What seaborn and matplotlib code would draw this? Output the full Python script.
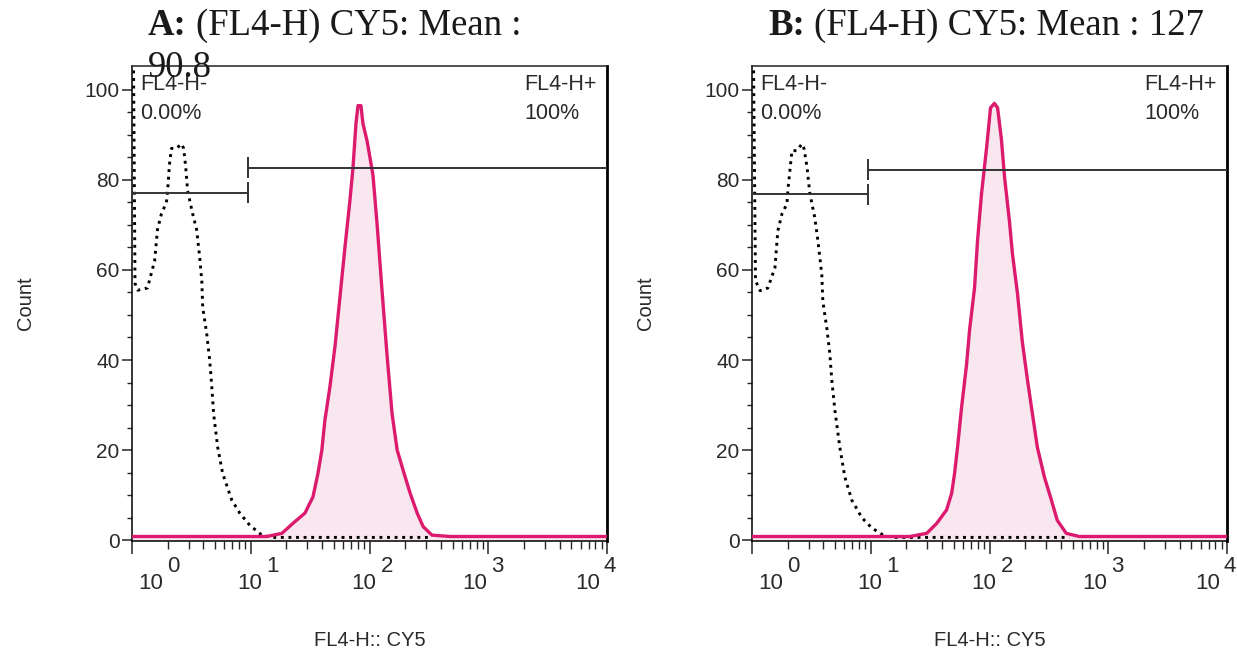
import numpy as np
import pandas as pd
import matplotlib
matplotlib.use("Agg")
import matplotlib.pyplot as plt
import seaborn as sns
from matplotlib.ticker import FixedLocator, NullFormatter

# ---------------- data ----------------
panel_letters = ["A:", "B:"]
title_line1 = ["(FL4-H) CY5: Mean :", "(FL4-H) CY5: Mean : 127"]
title_line2 = ["90.8", ""]
gate_neg_label = "FL4-H-"
gate_pos_label = "FL4-H+"
gate_neg_pct = ["0.00%", "0.00%"]
gate_pos_pct = ["100%", "100%"]
x_label = "FL4-H:: CY5"
y_label = "Count"
y_ticks = [0, 20, 40, 60, 80, 100]
x_decades = [0, 1, 2, 3, 4]

# control (dotted, unstained) histogram, panel A
ctrl_a_x = [1.03, 1.06, 1.12, 1.35, 1.55, 1.64, 1.77, 1.95, 2.00, 2.07, 2.15, 2.37,
            2.62, 2.72, 2.83, 2.94, 3.24, 3.50, 3.71, 3.87, 3.94, 4.25, 4.51, 4.70,
            4.87, 5.27, 5.80, 6.92, 8.08, 9.81, 12.4, 15.0, 330]
ctrl_a_y = [106, 57, 55.5, 56, 62, 69, 72.5, 75, 78, 83.6, 87, 87,
            88, 87, 83, 77.6, 72.5, 69, 63, 57.6, 51.7, 46, 40, 34,
            28, 20.6, 14.8, 8.9, 6.0, 3.3, 1.1, 0.6, 0.6]

# stained (pink) histogram, panel A
samp_a_x = [1.0, 13.6, 18.3, 22.6, 28.6, 33.4, 36.8, 39.7, 42.1, 46.4, 51.2, 56.4,
            62.1, 68.4, 72.6, 76.9, 80.0, 84.7, 88.1, 95.3, 100.9, 107, 116, 127,
            141, 155, 171, 192, 220, 252, 283, 336, 478, 10000]
samp_a_y = [0.8, 0.8, 1.5, 3.7, 6.0, 9.6, 14.8, 20, 26.6, 34, 43, 54,
            65, 75.4, 82.7, 92.5, 96.5, 96.5, 92.5, 88.7, 85, 81, 70, 56,
            40.6, 28, 20, 15.5, 10.4, 6.0, 3.0, 1.1, 0.8, 0.8]

# control histogram, panel B
ctrl_b_x = [1.03, 1.07, 1.17, 1.36, 1.56, 1.65, 1.79, 1.97, 2.01, 2.17, 2.39, 2.63,
            2.74, 2.90, 3.07, 3.38, 3.59, 3.87, 3.95, 4.27, 4.52, 4.70, 4.98, 5.49,
            6.05, 6.92, 8.40, 10.2, 13.1, 16.0, 470]
ctrl_b_y = [106, 57.6, 55.4, 56, 60.5, 68.7, 72.5, 74.7, 78, 86.5, 86.5, 88,
            87, 83, 77, 71.6, 66.5, 59, 53, 47, 41.5, 35.5, 29, 20.6,
            14, 8.9, 5.0, 2.7, 0.9, 0.6, 0.6]

# stained histogram, panel B
samp_b_x = [1.0, 21.3, 29.6, 35.9, 43.5, 48.0, 50.8, 53.8, 58.2, 64.1, 67.9, 74.8,
            79.3, 85.7, 94.4, 102, 110, 117, 126, 134, 147, 156, 172, 189,
            209, 230, 253, 290, 332, 372, 443, 570, 10000]
samp_b_y = [0.8, 0.8, 1.5, 3.7, 6.7, 10.4, 14.8, 20.6, 29.5, 39, 46.6, 56,
            66.5, 77, 87, 96, 97, 96, 89, 80.5, 71, 63.6, 54.8, 44,
            35.5, 28, 20.6, 14, 8.9, 4.4, 1.5, 0.8, 0.8]

# gates
gate_edge = [9.44, 9.44]
gate_neg_y = [77.2, 76.8]
gate_pos_y = [82.7, 82.3]

ctrl_x = [ctrl_a_x, ctrl_b_x]
ctrl_y = [ctrl_a_y, ctrl_b_y]
samp_x = [samp_a_x, samp_b_x]
samp_y = [samp_a_y, samp_b_y]

# ---------------- style ----------------
sns.set_style("ticks")
plt.rcParams["font.family"] = ["Liberation Sans", "DejaVu Sans"]

PINK = "#DC1A6E"
PINK_FILL = "#F8E7EF"
TXT = "#2a2a2a"
TITLE_FS = 26.5

W, H = 1237, 659
fig = plt.figure(figsize=(W / 100, H / 100), dpi=100)
renderer = fig.canvas.get_renderer()
ax_lefts = [132, 752]
ax_w, ax_top, ax_bot = 475, 66, 541
YMIN, YMAX = -0.2, 105.3

label_dx = [31, 11, 7, -1, -7]   # pixel offsets of "10" right edge from tick

for i in range(2):
    ax = fig.add_axes([ax_lefts[i] / W, 1 - ax_bot / H, ax_w / W, (ax_bot - ax_top) / H])
    ax.set_xscale("log")
    ax.set_xlim(1, 10000)
    ax.set_ylim(YMIN, YMAX)

    ctrl = pd.DataFrame({"x": ctrl_x[i], "y": ctrl_y[i]})
    samp = pd.DataFrame({"x": samp_x[i], "y": samp_y[i]})

    ax.fill_between(samp["x"], samp["y"], YMIN, color=PINK_FILL, lw=0, zorder=1)
    sns.lineplot(data=ctrl, x="x", y="y", ax=ax, sort=False, estimator=None,
                 color="black", lw=2.1, linestyle=(0, (1, 1.6)), zorder=3)
    sns.lineplot(data=samp, x="x", y="y", ax=ax, sort=False, estimator=None,
                 color=PINK, lw=2.4, zorder=4)

    # gates
    ge = gate_edge[i]
    gcol = "#333333"
    ax.hlines(gate_neg_y[i], 1, ge, color=gcol, lw=1.4, zorder=5)
    ax.vlines(ge, gate_neg_y[i] - 2.3, gate_neg_y[i] + 2.3, color=gcol, lw=1.4, zorder=5)
    ax.hlines(gate_pos_y[i], ge, 10000, color=gcol, lw=1.4, zorder=5)
    ax.vlines(ge, gate_pos_y[i] - 2.3, gate_pos_y[i] + 2.3, color=gcol, lw=1.4, zorder=5)

    # gate annotations
    fs_in = 15.5
    ax.text(0.017, 0.949, gate_neg_label, transform=ax.transAxes, fontsize=fs_in,
            color=TXT, ha="left", va="baseline")
    ax.text(0.017, 0.889, gate_neg_pct[i], transform=ax.transAxes, fontsize=fs_in,
            color=TXT, ha="left", va="baseline")
    ax.text(0.825, 0.949, gate_pos_label, transform=ax.transAxes, fontsize=fs_in,
            color=TXT, ha="left", va="baseline")
    ax.text(0.825, 0.889, gate_pos_pct[i], transform=ax.transAxes, fontsize=fs_in,
            color=TXT, ha="left", va="baseline")

    # spines
    for s in ["left", "bottom", "top"]:
        ax.spines[s].set_visible(True)
        ax.spines[s].set_linewidth(1.1)
        ax.spines[s].set_color("black")
    ax.spines["top"].set_color("#222222")
    ax.spines["right"].set_linewidth(2.0)
    ax.spines["right"].set_color("black")

    # ticks
    ax.yaxis.set_major_locator(FixedLocator(y_ticks))
    ax.yaxis.set_minor_locator(FixedLocator([v for v in range(5, 105, 5) if v % 20]))
    ax.tick_params(axis="y", which="major", length=7, width=1.1, labelsize=15,
                   labelcolor=TXT, pad=2)
    ax.tick_params(axis="y", which="minor", length=3.5, width=1.0)
    ax.xaxis.set_major_locator(FixedLocator([10.0 ** k for k in x_decades]))
    minors = [m * 10.0 ** k for k in x_decades[:-1] for m in range(2, 10)]
    ax.xaxis.set_minor_locator(FixedLocator(minors))
    ax.xaxis.set_major_formatter(NullFormatter())
    ax.xaxis.set_minor_formatter(NullFormatter())
    ax.tick_params(axis="x", which="major", length=9.5, width=1.1)
    ax.tick_params(axis="x", which="minor", length=5.5, width=1.0)

    # decade labels "10" + exponent
    for k, dx in zip(x_decades, label_dx):
        ax.annotate("10", xy=(10.0 ** k, 0), xycoords=("data", "axes fraction"),
                    xytext=(dx, -48), textcoords="offset pixels", ha="right",
                    va="baseline", fontsize=16, color=TXT, annotation_clip=False)
        ax.annotate(str(k), xy=(10.0 ** k, 0), xycoords=("data", "axes fraction"),
                    xytext=(dx + 4, -31), textcoords="offset pixels", ha="left",
                    va="baseline", fontsize=16, color=TXT, annotation_clip=False)

    ax.set_xlabel(x_label, fontsize=14.5, color=TXT)
    ax.xaxis.set_label_coords(0.5, -0.19)
    ax.set_ylabel(y_label, fontsize=14.5, color=TXT)
    ax.yaxis.set_label_coords(-0.205, 0.5)

    # titles: bold panel letter followed by regular text
    tx = (ax_lefts[i] + 16) / W
    t_bold = fig.text(tx, 1 - 35 / H, panel_letters[i], fontsize=TITLE_FS,
                      family="Liberation Serif", weight="bold", color="#1a1a1a",
                      ha="left", va="baseline")
    bw = t_bold.get_window_extent(renderer).width
    fig.text(tx + (bw + 9) / W, 1 - 35 / H, title_line1[i], fontsize=TITLE_FS,
             family="Liberation Serif", color="#1a1a1a", ha="left", va="baseline")
    if title_line2[i]:
        fig.text(tx, 1 - 77 / H, title_line2[i], fontsize=TITLE_FS, family="Liberation Serif",
                 color="#1a1a1a", ha="left", va="baseline", zorder=10)

fig.savefig("out.png", dpi=100)
